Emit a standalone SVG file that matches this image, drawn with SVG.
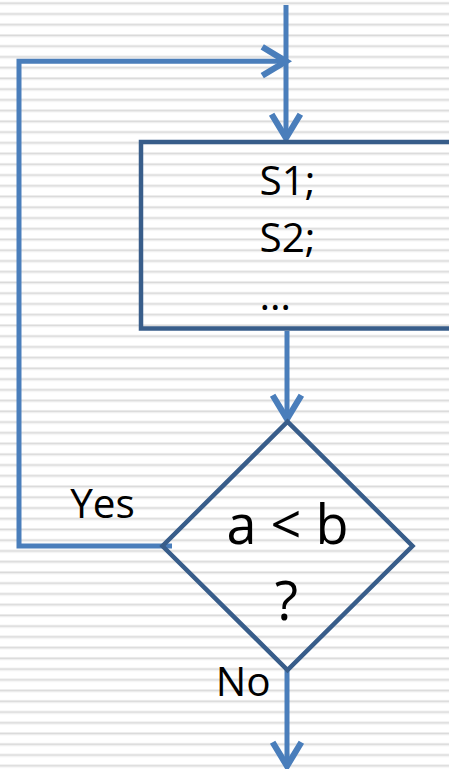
<svg xmlns="http://www.w3.org/2000/svg" width="449" height="769" viewBox="0 0 449 769">
  <defs>
    <!-- ruled-paper background -->
    <pattern id="rules" patternUnits="userSpaceOnUse" x="0" y="1.8" width="449" height="10.74">
      <rect x="0" y="0" width="449" height="1" fill="#ebebeb"/>
      <rect x="0" y="1" width="449" height="1.2" fill="#d9d9d9"/>
      <rect x="0" y="2.2" width="449" height="1" fill="#ebebeb"/>
    </pattern>
    <marker id="arrow" markerUnits="userSpaceOnUse" markerWidth="40" markerHeight="40"
            viewBox="-24 -16 30 32" refX="0" refY="0" orient="auto" overflow="visible">
      <path d="M -19 -11.5 L 0 0 L -19 11.5" fill="none" stroke="#4a7ebb" stroke-width="5" stroke-linejoin="miter"/>
    </marker>
    <style>
      .conn { fill: none; stroke: #4a7ebb; stroke-width: 5; stroke-linejoin: miter; }
      .shape { fill: none; stroke: #385d8a; stroke-width: 4.5; }
      .lbl { font-family: "Open Sans", "Noto Sans", "DejaVu Sans", sans-serif; fill: #000; }
      .small { font-size: 40.5px; }
      .big { font-size: 54px; }
    </style>
  </defs>

  <rect x="0" y="0" width="449" height="769" fill="#ffffff"/>
  <rect x="0" y="0" width="449" height="769" fill="url(#rules)"/>

  <!-- connectors -->
  <g id="connectors">
    <path class="conn" d="M 286 5 V 138" marker-end="url(#arrow)"/>
    <path class="conn" d="M 172 546 H 19 V 61.3 H 286" marker-end="url(#arrow)"/>
    <path class="conn" d="M 287 331 V 419" marker-end="url(#arrow)"/>
    <path class="conn" d="M 287 670 V 766" marker-end="url(#arrow)"/>
  </g>

  <!-- process block -->
  <g id="process">
    <rect class="shape" x="141" y="142" width="340" height="186.5"/>
    <text class="lbl small" x="259.5" y="195">S1;</text>
    <text class="lbl small" x="259.5" y="252">S2;</text>
    <text class="lbl small" x="259.5" y="310">…</text>
  </g>

  <!-- decision -->
  <g id="decision">
    <polygon class="shape" points="287.5,421.7 412.5,546 287.5,670 162.5,546"/>
    <text class="lbl big" x="287.5" y="544" text-anchor="middle">a &lt; b</text>
    <text class="lbl big" x="286.5" y="620" text-anchor="middle">?</text>
  </g>

  <!-- branch labels -->
  <g id="label-yes">
    <text class="lbl small" x="102.5" y="518.3" text-anchor="middle">Yes</text>
  </g>
  <g id="label-no">
    <text class="lbl small" x="243.3" y="696" text-anchor="middle">No</text>
  </g>
</svg>
